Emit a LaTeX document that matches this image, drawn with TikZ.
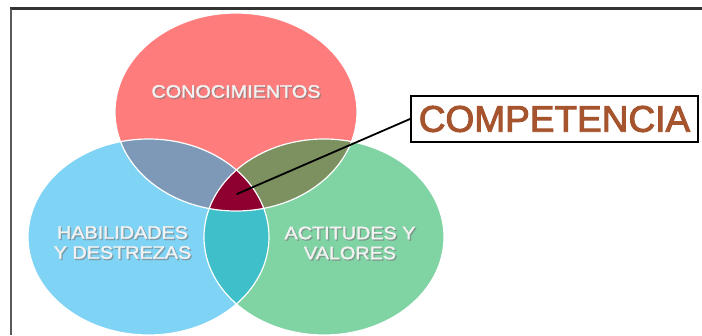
\documentclass[tikz,border=0pt]{standalone}
\usepackage{fontspec}
\setmainfont{Liberation Sans}
\newfontfamily\labelfont{Liberation Sans}[FakeBold=1.6]
\newfontfamily\compfont{Liberation Sans}[FakeBold=2.6]
\definecolor{cred}{HTML}{FF7C7C}
\definecolor{cblue}{HTML}{7FD4F6}
\definecolor{cgreen}{HTML}{80D4A4}
\definecolor{crb}{HTML}{7E99B8}
\definecolor{crg}{HTML}{7C9060}
\definecolor{cbg}{HTML}{3EBFC9}
\definecolor{ccen}{HTML}{8E0030}
\definecolor{cbrown}{HTML}{A6542E}
\definecolor{ctext}{HTML}{F2F2F2}
\definecolor{cshadow}{HTML}{7A7A7A}
\tikzset{
  vlabel/.style={inner sep=0pt, align=center, text=ctext,
    font=\labelfont\fontsize{18}{20}\selectfont},
  vshadow/.style={inner sep=0pt, align=center, text=cshadow, opacity=0.55,
    font=\labelfont\fontsize{18}{20}\selectfont},
  edge/.style={draw=white, line width=1.2pt},
}
\newcommand{\wide}[1]{\scalebox{1.1}[1]{#1}}
\begin{document}
\begin{tikzpicture}[x=1pt,y=-1pt]
\useasboundingbox (0,0) rectangle (702,335);
\fill[white] (0,0) rectangle (702,335);
\begin{scope}
\clip (0,0) rectangle (702,335);
% base ellipses
\fill[cred] (236,112) ellipse [x radius=121, y radius=99];
\fill[cblue] (148.5,237) ellipse [x radius=120.5, y radius=98];
\fill[cgreen] (324,237) ellipse [x radius=120, y radius=98];
% pairwise overlaps
\begin{scope}
  \clip (236,112) ellipse [x radius=121, y radius=99];
  \fill[crb] (148.5,237) ellipse [x radius=120.5, y radius=98];
  \fill[crg] (324,237) ellipse [x radius=120, y radius=98];
\end{scope}
\begin{scope}
  \clip (148.5,237) ellipse [x radius=120.5, y radius=98];
  \fill[cbg] (324,237) ellipse [x radius=120, y radius=98];
\end{scope}
\begin{scope}
  \clip (236,112) ellipse [x radius=121, y radius=99];
  \clip (148.5,237) ellipse [x radius=120.5, y radius=98];
  \fill[ccen] (324,237) ellipse [x radius=120, y radius=98];
\end{scope}
% outlines
\draw[edge] (236,112) ellipse [x radius=121, y radius=99];
\draw[edge] (148.5,237) ellipse [x radius=120.5, y radius=98];
\draw[edge] (324,237) ellipse [x radius=120, y radius=98];
\end{scope}
% frame
\draw[color=black!80, line width=3pt] (10,8.5) -- (702,8.5);
\draw[color=black!65, line width=1.5pt] (11,8.5) -- (11,335);
% labels
\node[vshadow] at (237.3,92.8) {\wide{CONOCIMIENTOS}};
\node[vlabel] (con) at (236,91.5) {\wide{CONOCIMIENTOS}};
\node[vshadow] at (123.8,243.8) {\wide{HABILIDADES}\\\wide{Y DESTREZAS}};
\node[vlabel] (hab) at (122.5,242.5) {\wide{HABILIDADES}\\\wide{Y DESTREZAS}};
\node[vshadow] at (351.3,244.3) {\wide{ACTITUDES Y}\\\wide{VALORES}};
\node[vlabel] (act) at (350,243) {\wide{ACTITUDES Y}\\\wide{VALORES}};
% competencia box
\node[draw=black, line width=2pt, fill=white, text=cbrown, inner xsep=3pt,
  minimum width=287pt, minimum height=46pt,
  font=\compfont\fontsize{37}{40}\selectfont] (comp) at (554.5,119) {COMPETENCIA};
\coordinate (center) at (237,194);
\draw[black, line width=1.8pt, line cap=round] (comp.west) -- (center);
\end{tikzpicture}
\end{document}
